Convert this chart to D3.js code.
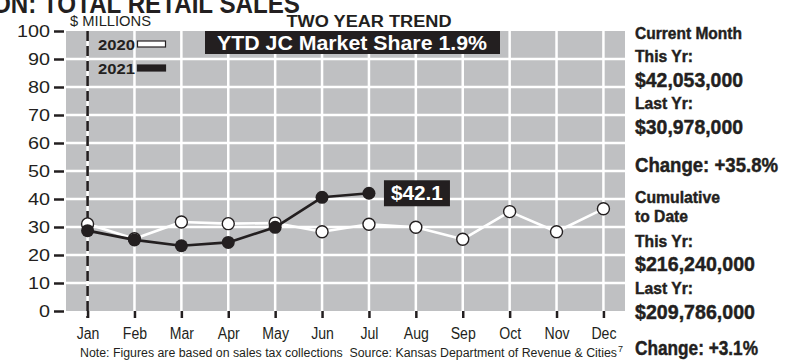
<!DOCTYPE html>
<html>
<head>
<meta charset="utf-8">
<script src="https://cdn.jsdelivr.net/npm/d3@7"></script>
<style>
  html, body { margin: 0; padding: 0; background: #ffffff; }
  svg { display: block; }
  text { font-family: "Liberation Sans", Arial, Helvetica, sans-serif; }
</style>
</head>
<body>
<svg id="chart" width="795" height="360"></svg>
<script>
// Monthly retail sales, $ millions
const months = ["Jan", "Feb", "Mar", "Apr", "May", "Jun", "Jul", "Aug", "Sep", "Oct", "Nov", "Dec"];
const sales2020 = [31.1, 25.8, 31.8, 31.2, 31.4, 28.3, 30.98, 29.9, 25.6, 35.5, 28.3, 36.5];
const sales2021 = [28.7, 25.4, 23.3, 24.5, 29.9, 40.6, 42.05];
const yTicks = [0, 10, 20, 30, 40, 50, 60, 70, 80, 90, 100];
const seriesNames = ["2020", "2021"];
const latestLabel = "$42.1";
const shareLabel = "YTD JC Market Share 1.9%";
const headline = "ON: TOTAL RETAIL SALES";
const subtitle = "TWO YEAR TREND";
const unitLabel = "$ MILLIONS";
const footnote = "Note: Figures are based on sales tax collections  Source: Kansas Department of Revenue & Cities";
const footnoteMark = "7";
const sideLines = [
  "Current Month", "This Yr:", "$42,053,000", "Last Yr:", "$30,978,000", "Change: +35.8%",
  "Cumulative", "to Date", "This Yr:", "$216,240,000", "Last Yr:", "$209,786,000", "Change: +3.1%"
];

const INK = "#231f20";
const PANEL = "#bfc0c2";

// Side panel layout: baseline, font size and set width of each line
const sideLayout = [
  { y: 39, size: 17, w: 107 }, { y: 62, size: 17, w: 58 }, { y: 87, size: 21, w: 108 },
  { y: 109, size: 17, w: 58 }, { y: 134, size: 21, w: 108 }, { y: 172, size: 21, w: 143 },
  { y: 203, size: 17, w: 85 }, { y: 222, size: 17, w: 53 }, { y: 247, size: 17, w: 58 },
  { y: 271, size: 21, w: 120 }, { y: 294, size: 17, w: 58 }, { y: 319, size: 21, w: 120 },
  { y: 355, size: 21, w: 123 }
];

// Squeeze text horizontally to mimic a condensed face
function condense(sel, f) {
  sel.each(function () {
    const w = this.getComputedTextLength();
    d3.select(this).attr("textLength", w * f).attr("lengthAdjust", "spacingAndGlyphs");
  });
}
function fit(sel, w) {
  sel.attr("textLength", w).attr("lengthAdjust", "spacingAndGlyphs");
}

const svg = d3.select("#chart");
const plot = { left: 66, right: 625, top: 31, bottom: 311 };

const x = d3.scalePoint().domain(months).range([plot.left, plot.right]).padding(0.46);
const y = d3.scaleLinear().domain([0, 100]).range([plot.bottom, plot.top]);

// Headline (runs off the top edge)
svg.append("text")
  .attr("x", -8).attr("y", 13)
  .attr("font-size", 27).attr("font-weight", "bold").attr("fill", INK)
  .text(headline)
  .call(fit, 308);

// Plot background
svg.append("rect")
  .attr("x", plot.left).attr("y", plot.top)
  .attr("width", plot.right - plot.left).attr("height", plot.bottom - plot.top)
  .attr("fill", PANEL);

// Horizontal grid
svg.append("g").selectAll("line")
  .data(yTicks.filter(d => d > 0 && d < 100))
  .join("line")
  .attr("x1", plot.left).attr("x2", plot.right)
  .attr("y1", d => y(d)).attr("y2", d => y(d))
  .attr("stroke", "#ffffff").attr("stroke-width", 2.5);

// Vertical grid
svg.append("g").selectAll("line")
  .data(months)
  .join("line")
  .attr("x1", d => x(d)).attr("x2", d => x(d))
  .attr("y1", plot.top).attr("y2", plot.bottom)
  .attr("stroke", "#ffffff").attr("stroke-width", 2.5);

// Y axis
const yAxis = svg.append("g")
  .attr("transform", "translate(64,0)")
  .call(d3.axisLeft(y).tickValues(yTicks).tickSize(10).tickPadding(4));
yAxis.attr("font-family", null);
yAxis.select(".domain").remove();
yAxis.selectAll(".tick line").attr("stroke", INK).attr("stroke-width", 2.5);
yAxis.selectAll(".tick text")
  .attr("font-size", 17).attr("fill", INK)
  .attr("textLength", d => String(d).length * 11)
  .attr("lengthAdjust", "spacingAndGlyphs");

// X axis
const xAxis = svg.append("g")
  .attr("transform", `translate(0,${plot.bottom})`)
  .call(d3.axisBottom(x).tickSize(7).tickPadding(10));
xAxis.attr("font-family", null);
xAxis.select(".domain").remove();
xAxis.selectAll(".tick line").attr("stroke", INK).attr("stroke-width", 2.5);
xAxis.selectAll(".tick text")
  .attr("font-size", 16).attr("fill", INK)
  .call(condense, 0.88);

// January marker: dashed line over the grid
svg.append("line")
  .attr("x1", x("Jan")).attr("x2", x("Jan"))
  .attr("y1", plot.top).attr("y2", plot.bottom + 7)
  .attr("stroke", INK).attr("stroke-width", 2.6)
  .attr("stroke-dasharray", "10,5");

// Series
const line = d3.line().x((d, i) => x(months[i])).y(d => y(d));

svg.append("path").datum(sales2020)
  .attr("d", line).attr("fill", "none")
  .attr("stroke", "#ffffff").attr("stroke-width", 2.6).attr("stroke-linejoin", "round");
svg.append("g").selectAll("circle")
  .data(sales2020)
  .join("circle")
  .attr("cx", (d, i) => x(months[i])).attr("cy", d => y(d))
  .attr("r", 6).attr("fill", "#ffffff")
  .attr("stroke", INK).attr("stroke-width", 1.4);

svg.append("path").datum(sales2021)
  .attr("d", line).attr("fill", "none")
  .attr("stroke", INK).attr("stroke-width", 2.6).attr("stroke-linejoin", "round");
svg.append("g").selectAll("circle")
  .data(sales2021)
  .join("circle")
  .attr("cx", (d, i) => x(months[i])).attr("cy", d => y(d))
  .attr("r", 6.5).attr("fill", INK);

// Latest value tag
const lastIdx = sales2021.length - 1;
const tagX = x(months[lastIdx]) + 15;
const tagY = y(sales2021[lastIdx]);
svg.append("rect")
  .attr("x", tagX).attr("y", tagY - 13)
  .attr("width", 66).attr("height", 26).attr("fill", INK);
svg.append("text")
  .attr("x", tagX + 33).attr("y", tagY + 7)
  .attr("text-anchor", "middle")
  .attr("font-size", 20).attr("font-weight", "bold").attr("fill", "#ffffff")
  .text(latestLabel)
  .call(fit, 52);

// Market share banner
svg.append("rect")
  .attr("x", 205).attr("y", 31).attr("width", 295).attr("height", 23).attr("fill", INK);
svg.append("text")
  .attr("x", 352).attr("y", 50)
  .attr("text-anchor", "middle")
  .attr("font-size", 20).attr("font-weight", "bold").attr("fill", "#ffffff")
  .text(shareLabel)
  .call(fit, 270);

// Subtitle and unit label
svg.append("text")
  .attr("x", 369).attr("y", 27)
  .attr("text-anchor", "middle")
  .attr("font-size", 16).attr("font-weight", "bold").attr("fill", INK)
  .text(subtitle)
  .call(fit, 165);
svg.append("text")
  .attr("x", 70).attr("y", 26)
  .attr("font-size", 15).attr("fill", INK)
  .text(unitLabel)
  .call(fit, 81);

// Legend
const legend = svg.append("g");
seriesNames.forEach((name, i) => {
  const ly = 50 + i * 24;
  legend.append("text")
    .attr("x", 98).attr("y", ly)
    .attr("font-size", 15).attr("font-weight", "bold").attr("fill", INK)
    .text(name)
    .call(fit, 37);
  legend.append("rect")
    .attr("x", 137.5).attr("y", ly - 9)
    .attr("width", 28).attr("height", 6)
    .attr("fill", i === 0 ? "#ffffff" : INK)
    .attr("stroke", INK).attr("stroke-width", 1.2);
});

// Footnote with superscript reference mark
svg.append("text")
  .attr("x", 80).attr("y", 357)
  .attr("font-size", 12).attr("fill", INK)
  .style("white-space", "pre")
  .text(footnote)
  .call(fit, 537);
svg.append("text")
  .attr("x", 618).attr("y", 352)
  .attr("font-size", 9).attr("fill", INK)
  .text(footnoteMark);

// Side panel: heavy condensed lines
svg.append("g").selectAll("text")
  .data(sideLines)
  .join("text")
  .attr("x", 635).attr("y", (d, i) => sideLayout[i].y)
  .attr("font-size", (d, i) => sideLayout[i].size)
  .attr("font-weight", "bold").attr("fill", INK)
  .attr("stroke", INK).attr("stroke-width", 0.45)
  .attr("textLength", (d, i) => sideLayout[i].w)
  .attr("lengthAdjust", "spacingAndGlyphs")
  .text(d => d);
</script>
</body>
</html>
